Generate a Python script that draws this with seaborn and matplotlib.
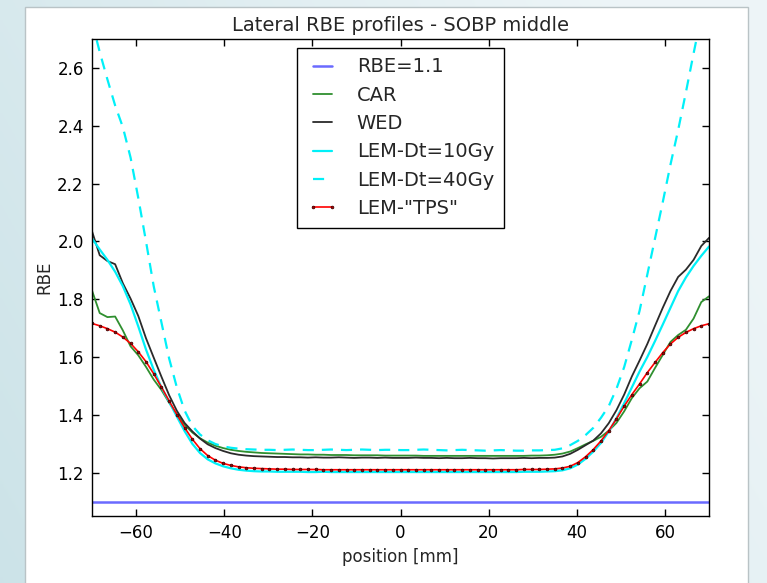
import numpy as np
import pandas as pd
import matplotlib
matplotlib.use("Agg")
import matplotlib.pyplot as plt
import seaborn as sns
from matplotlib.patches import Rectangle

# ---------------- data ----------------
position = [-70.0, -68.25, -66.5, -64.75, -63.0, -61.25, -59.5, -57.75, -56.0, -54.25,
            -52.5, -50.75, -49.0, -47.25, -45.5, -43.75, -42.0, -40.25, -38.5, -36.75,
            -35.0, -33.25, -31.5, -29.75, -28.0, -26.25, -24.5, -22.75, -21.0, -19.25,
            -17.5, -15.75, -14.0, -12.25, -10.5, -8.75, -7.0, -5.25, -3.5, -1.75,
            0.0, 1.75, 3.5, 5.25, 7.0, 8.75, 10.5, 12.25, 14.0, 15.75,
            17.5, 19.25, 21.0, 22.75, 24.5, 26.25, 28.0, 29.75, 31.5, 33.25,
            35.0, 36.75, 38.5, 40.25, 42.0, 43.75, 45.5, 47.25, 49.0, 50.75,
            52.5, 54.25, 56.0, 57.75, 59.5, 61.25, 63.0, 64.75, 66.5, 68.25, 70.0]

rbe_const = 1.1

car = [1.830, 1.752, 1.738, 1.740, 1.692, 1.637, 1.606, 1.566, 1.522, 1.486,
       1.442, 1.402, 1.366, 1.339, 1.319, 1.304, 1.293, 1.285, 1.279, 1.275,
       1.272, 1.270, 1.268, 1.267, 1.266, 1.265, 1.264, 1.263, 1.263, 1.262,
       1.262, 1.261, 1.261, 1.261, 1.260, 1.260, 1.260, 1.260, 1.259, 1.259,
       1.259, 1.259, 1.259, 1.258, 1.258, 1.258, 1.258, 1.258, 1.258, 1.258,
       1.258, 1.258, 1.258, 1.258, 1.258, 1.258, 1.258, 1.259, 1.259, 1.260,
       1.262, 1.266, 1.273, 1.285, 1.298, 1.310, 1.324, 1.345, 1.372, 1.412,
       1.458, 1.492, 1.515, 1.562, 1.607, 1.652, 1.676, 1.694, 1.733, 1.790, 1.810]

wed = [2.035, 1.952, 1.932, 1.921, 1.855, 1.802, 1.742, 1.665, 1.598, 1.532,
       1.468, 1.414, 1.372, 1.343, 1.318, 1.298, 1.285, 1.275, 1.267, 1.262,
       1.259, 1.257, 1.256, 1.255, 1.254, 1.254, 1.253, 1.253, 1.252, 1.253,
       1.252, 1.252, 1.253, 1.252, 1.251, 1.252, 1.252, 1.251, 1.252, 1.251,
       1.251, 1.251, 1.252, 1.251, 1.251, 1.250, 1.251, 1.250, 1.250, 1.251,
       1.250, 1.250, 1.249, 1.250, 1.250, 1.250, 1.251, 1.250, 1.251, 1.251,
       1.252, 1.256, 1.265, 1.279, 1.295, 1.311, 1.336, 1.371, 1.416, 1.470,
       1.533, 1.588, 1.645, 1.708, 1.770, 1.828, 1.877, 1.902, 1.936, 1.984, 2.012]

lem_10gy = [2.010, 1.972, 1.936, 1.895, 1.845, 1.782, 1.706, 1.626, 1.556, 1.495,
            1.445, 1.394, 1.344, 1.300, 1.268, 1.246, 1.232, 1.222, 1.215, 1.210,
            1.207, 1.205, 1.204, 1.204, 1.203, 1.203, 1.203, 1.203, 1.202, 1.202,
            1.203, 1.202, 1.202, 1.202, 1.202, 1.202, 1.202, 1.202, 1.202, 1.202,
            1.202, 1.202, 1.202, 1.202, 1.202, 1.202, 1.202, 1.202, 1.202, 1.202,
            1.202, 1.202, 1.202, 1.202, 1.202, 1.202, 1.203, 1.203, 1.203, 1.204,
            1.205, 1.208, 1.215, 1.228, 1.248, 1.273, 1.303, 1.342, 1.388, 1.440,
            1.495, 1.550, 1.600, 1.655, 1.712, 1.770, 1.828, 1.875, 1.915, 1.950, 1.982]

lem_40gy = [2.760, 2.655, 2.560, 2.470, 2.395, 2.290, 2.150, 2.000, 1.845, 1.720,
            1.595, 1.495, 1.415, 1.362, 1.332, 1.312, 1.299, 1.291, 1.286, 1.283,
            1.281, 1.280, 1.279, 1.279, 1.278, 1.279, 1.280, 1.279, 1.278, 1.278,
            1.279, 1.280, 1.279, 1.278, 1.279, 1.280, 1.279, 1.278, 1.279, 1.279,
            1.278, 1.278, 1.279, 1.280, 1.279, 1.278, 1.277, 1.278, 1.279, 1.278,
            1.277, 1.276, 1.277, 1.278, 1.277, 1.276, 1.276, 1.277, 1.277, 1.278,
            1.279, 1.284, 1.295, 1.310, 1.330, 1.355, 1.390, 1.430, 1.490, 1.565,
            1.660, 1.760, 1.885, 2.010, 2.135, 2.265, 2.385, 2.515, 2.650, 2.780, 2.910]

lem_tps = [1.716, 1.708, 1.698, 1.686, 1.669, 1.647, 1.618, 1.584, 1.542, 1.496,
           1.448, 1.401, 1.356, 1.316, 1.283, 1.259, 1.243, 1.232, 1.225, 1.220,
           1.217, 1.215, 1.214, 1.213, 1.212, 1.212, 1.211, 1.211, 1.211, 1.211,
           1.210, 1.210, 1.210, 1.210, 1.210, 1.210, 1.210, 1.210, 1.210, 1.210,
           1.210, 1.210, 1.210, 1.210, 1.210, 1.210, 1.210, 1.210, 1.210, 1.210,
           1.210, 1.210, 1.210, 1.210, 1.210, 1.210, 1.211, 1.211, 1.211, 1.212,
           1.213, 1.216, 1.222, 1.235, 1.255, 1.280, 1.310, 1.345, 1.386, 1.430,
           1.470, 1.507, 1.546, 1.581, 1.615, 1.645, 1.668, 1.685, 1.698, 1.708, 1.715]

labels = ["RBE=1.1", "CAR", "WED", "LEM-Dt=10Gy", "LEM-Dt=40Gy", 'LEM-"TPS"']
x_ticks = [-60, -40, -20, 0, 20, 40, 60]
y_ticks = [1.2, 1.4, 1.6, 1.8, 2.0, 2.2, 2.4, 2.6]

# ---------------- figure ----------------
sns.set_style("ticks")
plt.rcParams["font.family"] = ["DejaVu Sans"]

W, H = 767, 583
fig = plt.figure(figsize=(W / 100, H / 100), dpi=100)

# slide-like background
bg = fig.add_axes([0, 0, 1, 1], zorder=-10)
gx = np.linspace(0, 1, 200)[None, :]
gy = np.linspace(0, 1, 200)[:, None]
c_left = np.array([0.80, 0.89, 0.91])
c_right = np.array([0.93, 0.96, 0.97])
t = np.clip(gx * 0.8 + (1 - gy) * 0.35, 0, 1)[..., None]
img = c_left * (1 - t) + c_right * t
bg.imshow(img, extent=[0, 1, 0, 1], aspect="auto", origin="upper")
bg.set_axis_off()

fig.patches.append(Rectangle((25 / W, -0.01), (748 - 25) / W, 1.01 - 7 / H,
                             transform=fig.transFigure, facecolor="white",
                             edgecolor="#b9c3c6", linewidth=1.0, zorder=-5))

ax = fig.add_axes([92 / W, 1 - 516 / H, (709 - 92) / W, (516 - 39) / H])
ax.set_facecolor("white")

df = pd.DataFrame({"position": position, "car": car, "wed": wed,
                   "lem10": lem_10gy, "lem40": lem_40gy, "tps": lem_tps,
                   "ref": [rbe_const] * len(position)})

sns.lineplot(data=df, x="position", y="ref", ax=ax, color="#6a6aff", linewidth=1.8, label=labels[0])
sns.lineplot(data=df, x="position", y="car", ax=ax, color="#2f8f2f", linewidth=1.3, label=labels[1])
sns.lineplot(data=df, x="position", y="wed", ax=ax, color="#2a2a2a", linewidth=1.3, label=labels[2])
sns.lineplot(data=df, x="position", y="lem10", ax=ax, color="#00f0f8", linewidth=1.6, label=labels[3])
sns.lineplot(data=df, x="position", y="lem40", ax=ax, color="#00f0f8", linewidth=1.6,
             linestyle=(0, (5, 3.6)), label=labels[4])
sns.lineplot(data=df, x="position", y="tps", ax=ax, color="#ff0000", linewidth=1.2,
             marker=".", markersize=4, markerfacecolor="#aa0000", markeredgecolor="#300000",
             markeredgewidth=0.5, label=labels[5])

ax.set_xlim(-70, 70)
ax.set_ylim(1.05, 2.7)
ax.set_xticks(x_ticks)
ax.set_yticks(y_ticks)
ax.set_yticklabels([f"{v:.1f}" for v in y_ticks])
ax.tick_params(direction="in", length=5, width=1, top=True, right=True,
               labelsize=12, pad=6, colors="black")
for s in ax.spines.values():
    s.set_visible(True)
    s.set_color("black")
    s.set_linewidth(1.0)

ax.set_xlabel("position [mm]", fontsize=12, labelpad=4)
ax.set_ylabel("RBE", fontsize=12, labelpad=3)
ax.set_title("Lateral RBE profiles - SOBP middle", fontsize=14, pad=6)

leg = ax.legend(loc="upper center", fontsize=14, numpoints=2, fancybox=False,
                frameon=True, framealpha=1, edgecolor="black", handlelength=1.6,
                handletextpad=0.95, labelspacing=0.48, borderaxespad=0.45, borderpad=0.5)
leg.get_frame().set_linewidth(1.0)

fig.savefig("out.png", dpi=100)
